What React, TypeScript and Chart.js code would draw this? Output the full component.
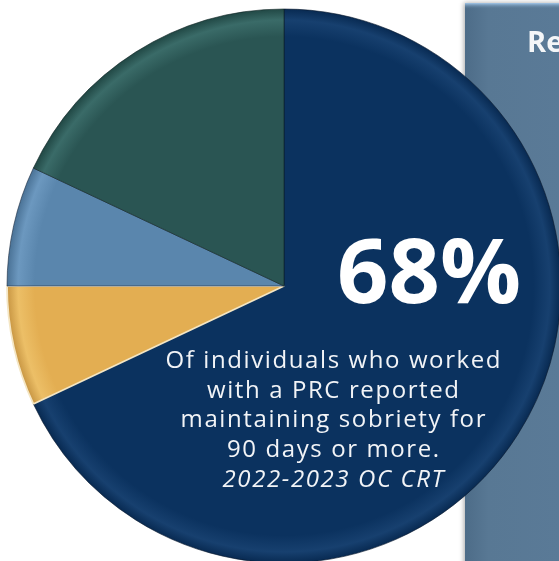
import React, { useEffect, useRef } from "react";
import { Chart, registerables } from "chart.js";

Chart.register(...registerables);

const categories = ["Maintained sobriety 90+ days", "Segment 2", "Segment 3", "Segment 4"];
const values = [68, 7, 7, 18];
const headline = "68%";
const bodyLines = [
  "Of individuals who worked",
  "with a PRC reported",
  "maintaining sobriety for",
  "90 days or more.",
];
const sourceLine = "2022-2023 OC CRT";
const panelTitle = "Re";

const sliceBase = ["#0b325f", "#e3ae52", "#5a86ad", "#2a5553"];
const sliceLight = ["#17406f", "#ecbf67", "#6c98bf", "#3a6b68"];
const sliceEdge = ["#082a52", "#c89643", "#4a7296", "#214845"];
const sliceBorder = ["rgba(10,25,45,0.6)", "#f4e6c4", "rgba(30,45,65,0.6)", "rgba(15,35,35,0.6)"];

const RADIUS = 277;

function sliceFill(ctx: any) {
  const chart = ctx.chart;
  const i = ctx.dataIndex;
  const area = chart.chartArea;
  if (!area) return sliceBase[i];
  const cx = (area.left + area.right) / 2;
  const cy = (area.top + area.bottom) / 2;
  const g = chart.ctx.createRadialGradient(cx, cy, 0, cx, cy, RADIUS);
  g.addColorStop(0, sliceBase[i]);
  g.addColorStop(0.9, sliceBase[i]);
  g.addColorStop(0.96, sliceLight[i]);
  g.addColorStop(1, sliceEdge[i]);
  return g;
}

const panelPlugin = {
  id: "panel",
  beforeDatasetsDraw(chart: any) {
    const c = chart.ctx;
    const w = chart.width;
    const h = chart.height;
    const x0 = 465;
    const y0 = 3;
    c.save();
    c.shadowColor = "rgba(0,0,0,0.35)";
    c.shadowBlur = 5;
    c.shadowOffsetX = -1;
    const g = c.createLinearGradient(x0, 0, w, 0);
    g.addColorStop(0, "#4d6c88");
    g.addColorStop(0.25, "#587894");
    g.addColorStop(1, "#5a7a97");
    c.fillStyle = g;
    c.fillRect(x0, y0, w - x0 + 10, h - y0 + 10);
    c.restore();
    c.save();
    const tg = c.createLinearGradient(0, y0, 0, y0 + 6);
    tg.addColorStop(0, "#a4c8ea");
    tg.addColorStop(1, "rgba(88,120,148,0)");
    c.fillStyle = tg;
    c.fillRect(x0, y0, w - x0, 6);
    c.fillStyle = "#f4f6f8";
    c.font = "bold 29px 'Open Sans', sans-serif";
    c.textAlign = "left";
    c.textBaseline = "alphabetic";
    c.fillText(panelTitle, 527, 52);
    c.restore();
  },
};

const textPlugin = {
  id: "overlayText",
  afterDraw(chart: any) {
    const c = chart.ctx;
    c.save();
    c.fillStyle = "#ffffff";
    c.textAlign = "center";
    c.textBaseline = "alphabetic";
    c.font = "bold 90px 'Open Sans', sans-serif";
    c.fillText(headline, 429, 303);
    c.fillStyle = "#f2f4f7";
    c.font = "400 24px 'Open Sans', sans-serif";
    // widen spacing to match the wide geometric face of the original
    const natural = c.measureText(bodyLines[0]).width;
    const gaps = bodyLines[0].length - 1;
    const spacing = Math.max(0, (335 - natural) / gaps);
    (c as any).letterSpacing = spacing.toFixed(2) + "px";
    const base = 368;
    const step = 29.7;
    const cx = 333 + spacing / 2;
    bodyLines.forEach((t, k) => c.fillText(t, cx, base + k * step));
    c.font = "italic 400 24px 'Open Sans', sans-serif";
    c.fillText(sourceLine, cx, base + bodyLines.length * step);
    c.restore();
  },
};

export default function App() {
  const ref = useRef<HTMLCanvasElement | null>(null);
  useEffect(() => {
    if (!ref.current) return;
    const chart = new Chart(ref.current, {
      type: "pie",
      data: {
        labels: categories,
        datasets: [
          {
            data: values,
            backgroundColor: sliceFill as any,
            borderColor: sliceBorder,
            borderWidth: [1, 1.8, 1, 1],
            radius: RADIUS,
            clip: false as any,
          } as any,
        ],
      },
      options: {
        responsive: false,
        animation: false,
        layout: { padding: { left: 9, right: 0, top: 11, bottom: 0 } },
        plugins: {
          legend: { display: false },
          tooltip: { enabled: false },
        },
      },
      plugins: [panelPlugin, textPlugin],
    });
    return () => chart.destroy();
  }, []);
  return (
    <div style={{ position: "absolute", left: 0, top: 0, width: 559, height: 561, background: "#ffffff" }}>
      <canvas ref={ref} width={559} height={561} style={{ display: "block", width: 559, height: 561 }} />
    </div>
  );
}
